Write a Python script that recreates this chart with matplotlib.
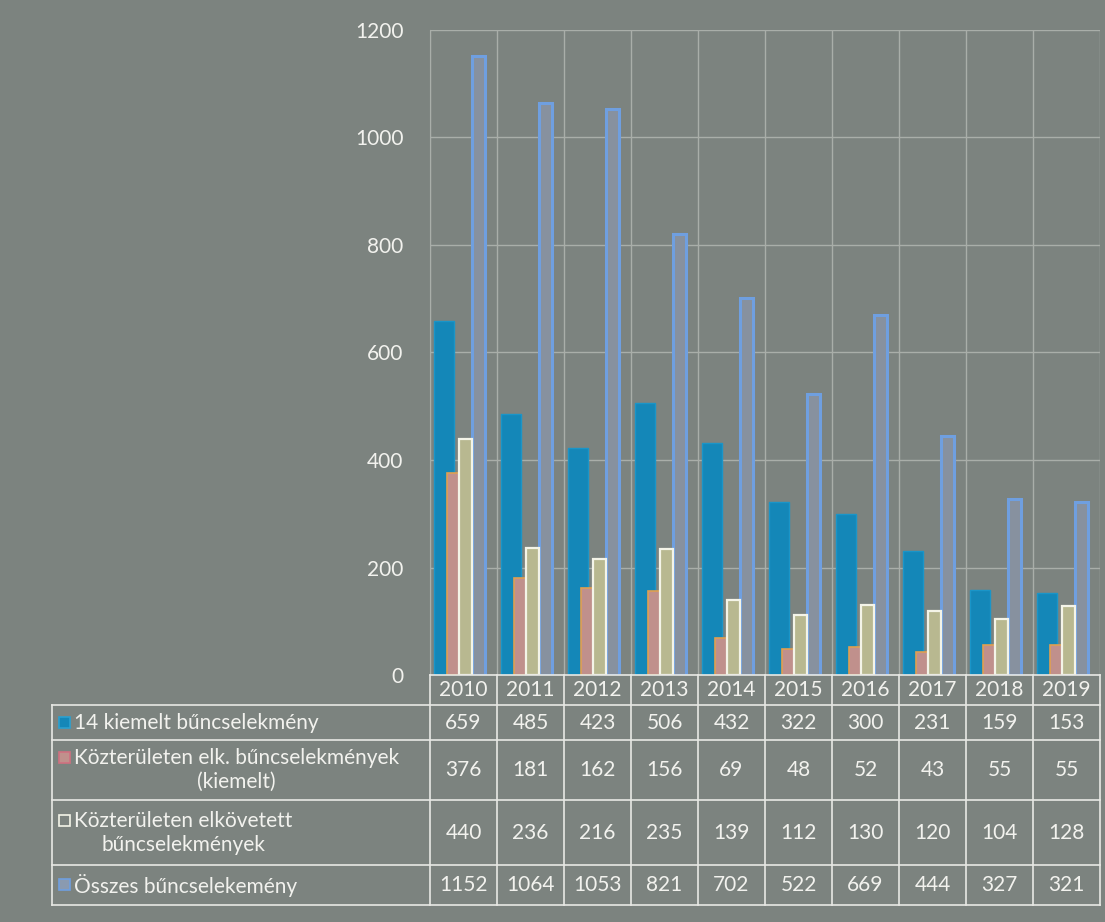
import matplotlib
matplotlib.use("Agg")
import matplotlib.pyplot as plt
from matplotlib.patches import Rectangle
from matplotlib.lines import Line2D
import numpy as np

years = ["2010", "2011", "2012", "2013", "2014", "2015", "2016", "2017", "2018", "2019"]
kiemelt14 = [659, 485, 423, 506, 432, 322, 300, 231, 159, 153]
kozt_kiemelt = [376, 181, 162, 156, 69, 48, 52, 43, 55, 55]
kozt_elk = [440, 236, 216, 235, 139, 112, 130, 120, 104, 128]
osszes = [1152, 1064, 1053, 821, 702, 522, 669, 444, 327, 321]

series_labels = ["14 kiemelt bűncselekmény",
                 "Közterületen elk. bűncselekmények\n(kiemelt)",
                 "Közterületen elkövetett\nbűncselekmények",
                 "Összes bűncselekemény"]
yticks = [0, 200, 400, 600, 800, 1000, 1200]

BG = "#7c837f"
GRID = "#a9aea9"
TXT = "#f2f2ee"
FONT = ["Lato", "DejaVu Sans"]
FS = 15

W, H = 1105, 922
fig = plt.figure(figsize=(W / 100, H / 100), dpi=100, facecolor=BG)

ax_l, ax_r, ax_t, ax_b = 430, 1100, 30, 675
ax = fig.add_axes([ax_l / W, 1 - ax_b / H, (ax_r - ax_l) / W, (ax_b - ax_t) / H])
ax.set_facecolor(BG)
n = len(years)
x = np.arange(n)

ax.bar(x - 0.29, kiemelt14, width=0.30, color="#1487b8", edgecolor="#1a95c8", linewidth=1, zorder=3)
ax.bar(x - 0.14, kozt_kiemelt, width=0.22, color="#c0908c", edgecolor="#e0a050", linewidth=1.2, zorder=4)
ax.bar(x + 0.03, kozt_elk, width=0.20, color="#b8b890", edgecolor="#f4f4e8", linewidth=1.6, zorder=5)
ax.bar(x + 0.22, osszes, width=0.20, color="#87919f", edgecolor="#6f9fe0", linewidth=2.2, zorder=2)

ax.set_xlim(-0.5, n - 0.5)
ax.set_ylim(0, 1200)
ax.set_yticks(yticks)
ax.set_yticklabels([str(v) for v in yticks], color=TXT, fontsize=FS, family=FONT)
ax.tick_params(axis="y", length=0, pad=19)
ax.set_xticks(np.arange(n + 1) - 0.5, minor=True)
ax.set_xticks([])
ax.tick_params(axis="x", which="minor", length=0)
ax.grid(axis="y", color=GRID, linewidth=1, zorder=0)
ax.grid(axis="x", which="minor", color=GRID, linewidth=1, zorder=0)
for s in ax.spines.values():
    s.set_visible(False)
ax.spines["left"].set_visible(True)
ax.spines["left"].set_color(GRID)

# Data table drawn below in pixel coordinates
ov = fig.add_axes([0, 0, 1, 1])
ov.set_xlim(0, W)
ov.set_ylim(H, 0)
ov.axis("off")
ov.patch.set_alpha(0)

col_w = (ax_r - ax_l) / n
tab_left = 52
rows_y = [675, 705, 740, 800, 865, 905]
lc = "#e8e8e4"
ov.add_line(Line2D([ax_l, ax_r], [rows_y[0], rows_y[0]], color=lc, lw=1.2))
for r in rows_y[1:]:
    ov.add_line(Line2D([tab_left, ax_r], [r, r], color=lc, lw=1.2))
ov.add_line(Line2D([tab_left, tab_left], [rows_y[1], rows_y[-1]], color=lc, lw=1.2))
for i in range(n + 1):
    xx = ax_l + i * col_w
    ov.add_line(Line2D([xx, xx], [rows_y[0], rows_y[-1]], color=lc, lw=1.2))
for i, yr in enumerate(years):
    ov.text(ax_l + (i + 0.5) * col_w, (rows_y[0] + rows_y[1]) / 2, yr, ha="center", va="center",
            color=TXT, fontsize=FS, family=FONT)

data_rows = [kiemelt14, kozt_kiemelt, kozt_elk, osszes]
sw_face = ["#1487b8", "#c0908c", BG, "#8a9ab0"]
sw_edge = ["#2aa0d0", "#d07080", "#f4f4e8", "#6f9fe0"]
for r, vals in enumerate(data_rows):
    yc = (rows_y[r + 1] + rows_y[r + 2]) / 2
    for i, v in enumerate(vals):
        ov.text(ax_l + (i + 0.5) * col_w, yc, str(v), ha="center", va="center",
                color=TXT, fontsize=FS, family=FONT)
    lines = series_labels[r].split("\n")
    if len(lines) == 1:
        ov.add_patch(Rectangle((59, yc - 6), 11, 11, facecolor=sw_face[r], edgecolor=sw_edge[r], lw=1.2))
        ov.text(74, yc, lines[0], ha="left", va="center", color=TXT, fontsize=FS, family=FONT)
    else:
        ov.add_patch(Rectangle((59, yc - 18), 11, 11, facecolor=sw_face[r], edgecolor=sw_edge[r], lw=1.2))
        t1 = ov.text(74, yc - 12, lines[0], ha="left", va="center", color=TXT, fontsize=FS, family=FONT)
        fig.canvas.draw()
        bb = t1.get_window_extent()
        cx = (bb.x0 + bb.x1) / 2
        ov.text(cx, yc + 12, lines[1], ha="center", va="center", color=TXT, fontsize=FS, family=FONT)

fig.savefig("out.png", dpi=100, facecolor=BG)
